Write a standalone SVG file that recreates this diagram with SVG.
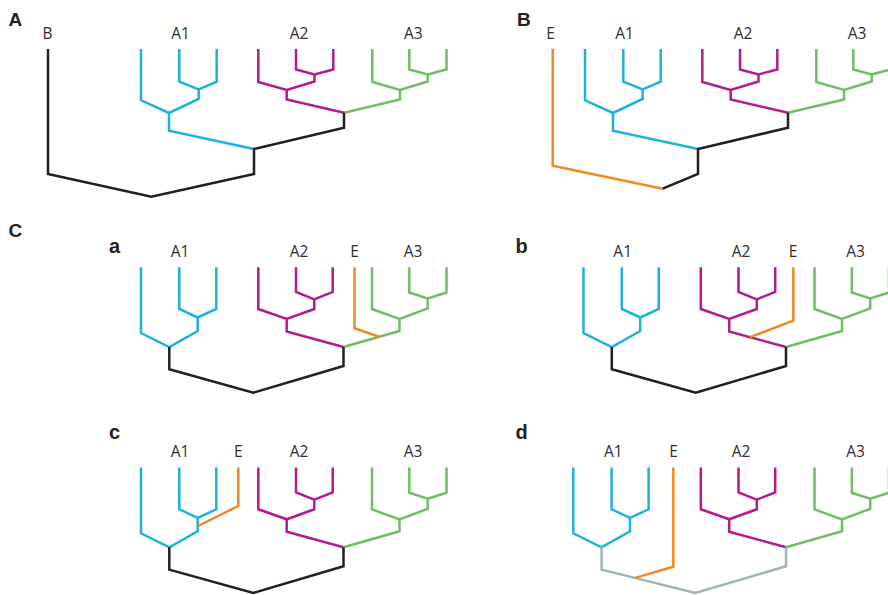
<svg xmlns="http://www.w3.org/2000/svg" width="888" height="595" viewBox="0 0 888 595">
<style>
.l{fill:none;stroke-width:2.5;stroke-linejoin:miter;stroke-linecap:butt}
.cy{stroke:#1db1df}
.mg{stroke:#b51b8b}
.gr{stroke:#72bc66}
.or{stroke:#f0891f}
.bk{stroke:#231f20}
.gy{stroke:#9fb4b6}
.t{font-family:"Open Sans","Liberation Sans",sans-serif;font-size:15.5px;fill:#2d2d2d;text-anchor:middle}
.p{font-family:"Liberation Sans","Open Sans",sans-serif;font-weight:bold;font-size:19px;fill:#231f20}
.q{font-family:"Liberation Sans","Open Sans",sans-serif;font-weight:bold;font-size:20px;fill:#231f20}
</style>
<defs>
<path id="cyA" d="M141,49 V100.3 L169,113 L198.7,99 V89.3 M179.3,49 V81.7 L198.7,89.3 L216.7,81.7 V49 M169,113 V130.7 L254,149"/>
<path id="mgA" d="M258.3,49 V82 L286.7,90 L314.5,81.5 V74.5 M296,49 V69.5 L314.5,74.5 L333.3,69.5 V49 M286.7,90 V99.5 L344,112.7"/>
<path id="grA" d="M372.3,49 V82 L400,90 L427.7,81.5 V74.5 M409.3,49 V69.5 L427.7,74.5 L446.5,69.5 V49 M400,90 V99.5 L344,112.7"/>
<path id="cyC" d="M141,267.3 V333 L169.3,347 L197.7,331 V317.5 M179.3,267.3 V309 L197.7,317.5 L216.3,309 V267.3"/>
<path id="mgC" d="M258.3,267.3 V309 L286.7,319 L314.3,309 V299.3 M296,267.3 V292 L314.3,299.3 L332.7,292 V267.3 M286.7,319 V331.5 L343.5,347"/>
<path id="grC" d="M372,267.3 V309 L399.5,319 L427.7,308.5 V298.5 M409.3,267.3 V292.5 L427.7,298.5 L446.5,292.5 V267.3 M399.5,319 V331 L343.5,347"/>
<path id="rtC" d="M169.3,347 V369.3 L253.3,392.7 L343.5,366 V347"/>
</defs>

<!-- Panel A -->
<g id="panelA">
<text class="p" x="8.5" y="25.5">A</text>
<g id="A-B"><text class="t" x="47.5" y="38.5">B</text></g>
<g id="A-A1"><text class="t" x="180.5" y="38.5">A1</text><use href="#cyA" class="l cy"/></g>
<g id="A-A2"><text class="t" x="299" y="38.5">A2</text><use href="#mgA" class="l mg"/></g>
<g id="A-A3"><text class="t" x="413.3" y="38.5">A3</text><use href="#grA" class="l gr"/></g>
<g id="A-connectors">
<path class="l bk" d="M48,49 V174 L151.3,196.7 L254,174 V149 L344,127.7 V112.7"/>
</g>
</g>

<!-- Panel B -->
<g id="panelB">
<text class="p" x="517" y="25.5">B</text>
<g id="B-E"><text class="t" x="550.5" y="38.5">E</text></g>
<g id="B-A1"><text class="t" x="624.5" y="38.5">A1</text><use href="#cyA" class="l cy" x="444"/></g>
<g id="B-A2"><text class="t" x="743" y="38.5">A2</text><use href="#mgA" class="l mg" x="444"/></g>
<g id="B-A3"><text class="t" x="857" y="38.5">A3</text><use href="#grA" class="l gr" x="444"/></g>
<g id="B-connectors">
<path class="l or" d="M552.7,49 V165.7 L662.7,188.7"/>
<path class="l bk" d="M662.7,188.7 L698,174 V149 L788,127.7 V112.7"/>
</g>
</g>

<!-- Panel C -->
<text class="p" x="8.5" y="237">C</text>

<!-- C a -->
<g id="panelCa">
<text class="q" x="109" y="253">a</text>
<g id="a-A1"><text class="t" x="180" y="256.7">A1</text><use href="#cyC" class="l cy"/></g>
<g id="a-A2"><text class="t" x="299" y="256.7">A2</text><use href="#mgC" class="l mg"/></g>
<g id="a-E"><text class="t" x="354.5" y="256.7">E</text></g>
<g id="a-A3"><text class="t" x="413" y="256.7">A3</text><use href="#grC" class="l gr"/></g>
<g id="a-connectors">
<use href="#rtC" class="l bk"/>
<path class="l or" d="M354.5,267.3 V328.3 L379,336.8"/>
</g>
</g>

<!-- C b -->
<g id="panelCb">
<text class="q" x="515.5" y="253">b</text>
<g id="b-A1"><text class="t" x="622.7" y="256.7">A1</text><use href="#cyC" class="l cy" x="442.5"/></g>
<g id="b-A2"><text class="t" x="741" y="256.7">A2</text><use href="#mgC" class="l mg" x="442.5"/></g>
<g id="b-E"><text class="t" x="793" y="256.7">E</text></g>
<g id="b-A3"><text class="t" x="855.5" y="256.7">A3</text><use href="#grC" class="l gr" x="442.5"/></g>
<g id="b-connectors">
<use href="#rtC" class="l bk" x="442.5"/>
<path class="l or" d="M793.3,267.3 V320.7 L750,337.2"/>
</g>
</g>

<!-- C c -->
<g id="panelCc">
<text class="q" x="109" y="438.5">c</text>
<g id="c-A1"><text class="t" x="180" y="456.7">A1</text><use href="#cyC" class="l cy" y="200.3"/></g>
<g id="c-E"><text class="t" x="238.3" y="456.7">E</text></g>
<g id="c-A2"><text class="t" x="299" y="456.7">A2</text><use href="#mgC" class="l mg" y="200.3"/></g>
<g id="c-A3"><text class="t" x="413" y="456.7">A3</text><use href="#grC" class="l gr" y="200.3"/></g>
<g id="c-connectors">
<use href="#rtC" class="l bk" y="200.3"/>
<path class="l or" d="M238.3,467.6 V506 L198,526"/>
</g>
</g>

<!-- C d -->
<g id="panelCd">
<text class="q" x="515.5" y="438.5">d</text>
<g id="d-A1"><text class="t" x="613.3" y="456.7">A1</text><use href="#cyC" class="l cy" x="432.3" y="200.3"/></g>
<g id="d-E"><text class="t" x="673.5" y="456.7">E</text></g>
<g id="d-A2"><text class="t" x="741" y="456.7">A2</text><use href="#mgC" class="l mg" x="442.5" y="200.3"/></g>
<g id="d-A3"><text class="t" x="855.5" y="456.7">A3</text><use href="#grC" class="l gr" x="442.5" y="200.3"/></g>
<g id="d-connectors">
<path class="l gy" d="M601.6,547.3 V569.6 L695.3,593 L786,566.3 V547.3"/>
<path class="l or" d="M673.3,467.6 V566.7 L635,577.9"/>
</g>
</g>
</svg>
